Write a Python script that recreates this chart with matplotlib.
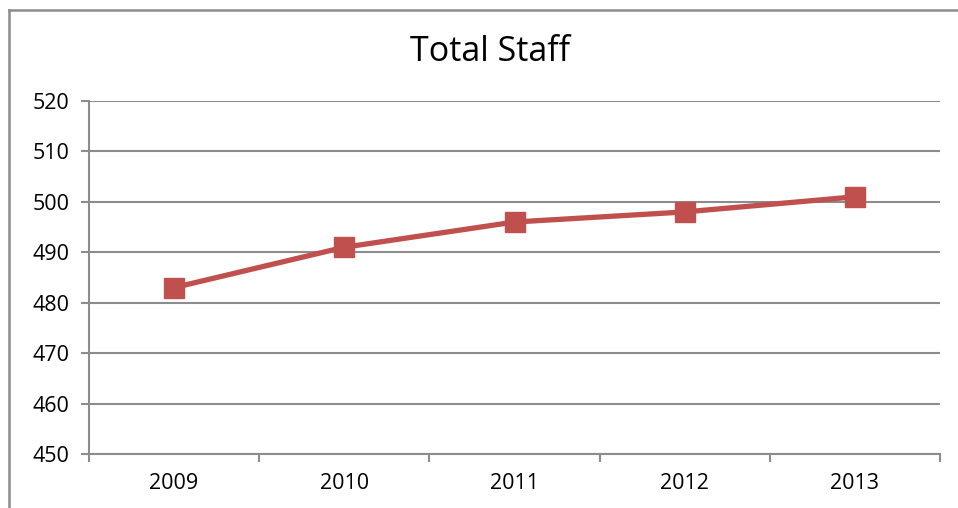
import matplotlib
matplotlib.use("Agg")
import matplotlib.pyplot as plt
from matplotlib.lines import Line2D
import numpy as np

years = ["2009", "2010", "2011", "2012", "2013"]
staff = [483, 491, 496, 498, 501]
yticks = [450, 460, 470, 480, 490, 500, 510, 520]

plt.rcParams['font.family'] = ['Open Sans', 'DejaVu Sans']

W, H = 958, 508
fig = plt.figure(figsize=(W/100, H/100), dpi=100)
ax = fig.add_axes([89/W, 1-454/H, (940-89)/W, (454-101)/H])

grid_c = "#8c8c8c"
x = np.arange(len(years))
ax.set_xlim(-0.5, len(years)-0.5)
ax.set_ylim(450, 520)
ax.set_yticks(yticks)
ax.set_yticklabels([str(v) for v in yticks])
ax.yaxis.grid(True, color=grid_c, linewidth=1.5)
ax.set_axisbelow(True)

ax.set_xticks(x)
ax.set_xticklabels(years)
ax.set_xticks(np.arange(-0.5, len(years)), minor=True)
ax.tick_params(axis='x', which='major', length=0, pad=14, labelsize=15.5)
ax.tick_params(axis='x', which='minor', length=6, width=1.5, color=grid_c, direction='out')
ax.tick_params(axis='y', length=6, width=1.5, color=grid_c, pad=8, labelsize=15.5)

for s in ['top', 'right']:
    ax.spines[s].set_visible(False)
for s in ['left', 'bottom']:
    ax.spines[s].set_color(grid_c)
    ax.spines[s].set_linewidth(1.5)

ax.plot(x, staff, color="#C0504D", linewidth=3.8, marker='s', markersize=14,
        markerfacecolor="#C0504D", markeredgecolor="#C0504D", zorder=3)

fig.text(490/W, 1-61/H, "Total Staff", ha='center', va='baseline', fontsize=24.5)

# outer chart border (top and left visible)
border_c = "#8c8c8c"
fig.add_artist(Line2D([9/W, 1.0], [1-10/H, 1-10/H], transform=fig.transFigure, color=border_c, linewidth=1.8))
fig.add_artist(Line2D([9/W, 9/W], [0.0, 1-10/H], transform=fig.transFigure, color=border_c, linewidth=1.8))

fig.savefig("out.png", dpi=100)
